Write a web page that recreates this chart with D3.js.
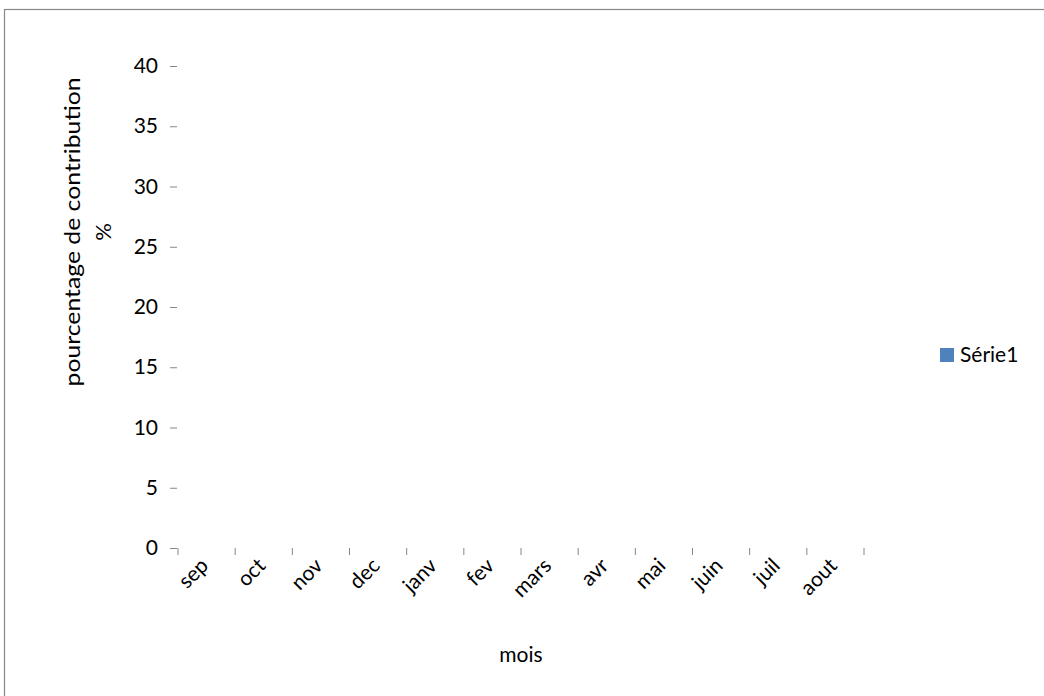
<!DOCTYPE html>
<html><head><meta charset="utf-8">
<script src="https://cdn.jsdelivr.net/npm/d3@7"></script>
<style>body{margin:0;background:#fff}svg{display:block}text{font-family:Lato,"Open Sans",sans-serif;fill:#000}</style>
</head><body><svg id="c" width="1044" height="696"></svg>
<script>
const categories = ["sep","oct","nov","dec","janv","fev","mars","avr","mai","juin","juil","aout"];
const serie1 = [0,0,0,0,0,0,0,0,0,0,0,0];
const yTicks = [0,5,10,15,20,25,30,35,40];
const seriesName = "Série1";

const svg = d3.select("#c");
svg.append("rect").attr("x",4.5).attr("y",9.5).attr("width",1100).attr("height",800)
  .attr("fill","#fff").attr("stroke","#888").attr("stroke-width",1.2);

const x = d3.scaleBand().domain(categories).range([178,864]);
const y = d3.scaleLinear().domain([0,40]).range([548,66]);

// bars
svg.append("g").selectAll("rect").data(serie1).join("rect")
  .attr("x",(d,i)=>x(categories[i])+x.bandwidth()*0.2)
  .attr("width",x.bandwidth()*0.6)
  .attr("y",d=>y(d)).attr("height",d=>y(0)-y(d)).attr("fill","#4F81BD");

// y axis
const ya = svg.append("g").attr("transform","translate(177,0)")
  .call(d3.axisLeft(y).tickValues(yTicks).tickSize(7).tickPadding(12));
ya.select(".domain").remove();
ya.selectAll(".tick line").attr("stroke","#868686");
ya.selectAll(".tick text").attr("font-size",21).style("font-family","Lato,sans-serif");

// x axis ticks (boundaries)
const bounds = categories.map(c=>x(c)).concat([x.range()[1]]);
svg.append("g").selectAll("line").data(bounds).join("line")
  .attr("x1",d=>d).attr("x2",d=>d).attr("y1",548).attr("y2",555)
  .attr("stroke","#868686");

svg.append("g").selectAll("text").data(categories).join("text")
  .attr("transform",d=>`translate(${x(d)+x.bandwidth()/2+3},${567}) rotate(-45)`)
  .attr("text-anchor","end").attr("font-size",21).text(d=>d);

// axis titles
svg.append("text").attr("transform","translate(80,232) rotate(-90)")
  .attr("text-anchor","middle").attr("font-size",22)
  .attr("textLength",309).attr("lengthAdjust","spacingAndGlyphs").text("pourcentage de contribution");
svg.append("text").attr("transform","translate(111,232) rotate(-90)")
  .attr("text-anchor","middle").attr("font-size",22).text("%");
svg.append("text").attr("x",521).attr("y",662).attr("text-anchor","middle")
  .attr("font-size",21).text("mois");

// legend
const lg = svg.append("g").attr("transform","translate(940,348)");
lg.append("rect").attr("width",14).attr("height",14).attr("fill","#4F81BD");
lg.append("text").attr("x",20).attr("y",14).attr("font-size",21).text(seriesName);
</script></body></html>
